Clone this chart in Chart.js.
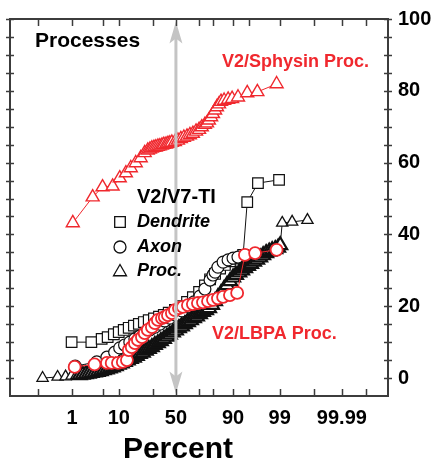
<!DOCTYPE html>
<html>
<head>
<meta charset="utf-8">
<script src="https://cdn.jsdelivr.net/npm/chart.js@4.4.1/dist/chart.umd.min.js"></script>
<style>
  html, body { margin: 0; padding: 0; background: #fff; }
  canvas { display: block; }
</style>
</head>
<body>
<canvas id="chartId" width="437" height="463"></canvas>
<script>
// cumulative percent (x) and value (y)
const sphysinPct = [1.04, 3.1, 5.0, 7.8, 10.4, 13.1, 15.6, 18.4, 21.5, 24.2, 26.4, 28.0, 29.5, 31.1, 32.6, 34.3, 35.9, 37.7, 39.3, 41.2, 42.9, 44.6, 46.4, 49.1, 51.8, 54.4, 57.1, 59.8, 62.3, 64.8, 67.4, 69.8, 71.9, 74.2, 75.7, 77.0, 78.5, 79.7, 81.0, 82.1, 83.3, 84.4, 86.0, 87.9, 89.6, 91.8, 94.5, 96.6, 98.8];
const sphysinVal = [43.2, 50.4, 53.2, 53.4, 55.7, 57.1, 58.5, 59.9, 61.3, 62.7, 63.4, 63.7, 64.0, 64.2, 64.3, 64.5, 64.6, 64.8, 65.0, 65.1, 65.3, 65.4, 65.6, 65.8, 66.2, 66.6, 67.0, 67.3, 67.7, 68.1, 68.7, 69.2, 69.9, 70.6, 71.0, 71.8, 72.7, 73.6, 74.6, 75.5, 76.3, 77.0, 77.3, 77.6, 77.8, 78.2, 79.4, 79.7, 81.9];

const dendritePct = [0.97, 2.9, 4.8, 6.3, 8.2, 10.0, 12.1, 14.5, 17.3, 20.3, 23.6, 27.1, 31.1, 35.2, 39.3, 43.6, 49.1, 54.4, 59.8, 64.8, 69.8, 74.2, 77.8, 81.0, 83.9, 86.4, 88.7, 91.1, 93.4, 94.5, 96.7, 98.96];
const dendriteVal = [10.0, 10.0, 10.9, 11.4, 12.2, 12.8, 13.4, 14.0, 14.6, 15.1, 15.6, 16.1, 16.6, 17.1, 17.6, 18.2, 19.0, 20.0, 21.2, 22.5, 24.0, 25.8, 27.5, 29.0, 30.5, 31.5, 32.5, 33.3, 34.3, 49.0, 54.3, 55.2];

const axonPct = [1.2, 3.8, 6.1, 8.5, 10.4, 12.5, 15.1, 17.9, 20.9, 24.2, 28.0, 31.9, 35.9, 40.1, 44.6, 50.0, 55.4, 60.6, 65.7, 70.5, 74.2, 77.8, 79.7, 81.0, 82.7, 85.5, 87.9, 90.0, 91.8];
const axonVal = [3.3, 4.5, 5.8, 7.2, 8.4, 9.2, 10.0, 10.9, 11.7, 12.5, 13.4, 14.2, 15.0, 15.9, 16.7, 17.5, 18.7, 19.8, 21.2, 22.8, 24.8, 27.3, 28.7, 29.5, 30.9, 32.3, 32.9, 33.4, 33.7];

const procPct = [0.14, 0.40, 0.67, 0.97, 1.30, 1.55, 1.83, 2.16, 2.53, 2.95, 3.44, 3.98, 4.60, 5.28, 6.05, 6.90, 7.84, 8.88, 10.0, 11.25, 12.6, 14.0, 15.6, 17.3, 19.05, 20.9, 22.9, 25.0, 27.2, 29.5, 31.85, 34.3, 36.8, 39.4, 42.0, 44.6, 47.3, 50.0, 52.7, 55.4, 58.0, 60.6, 63.2, 65.7, 68.15, 70.5, 72.8, 75.0, 77.1, 79.1, 80.95, 82.7, 84.4, 86.0, 87.4, 88.75, 90.0, 91.1, 92.2, 93.1, 93.95, 94.7, 95.4, 96.0, 96.56, 97.05, 97.47, 97.84, 98.17, 98.45, 98.70, 98.90, 99.03, 99.14, 99.54, 99.84];
const procVal = [0, 0.3, 0.4, 0.6, 0.8, 0.8, 0.95, 1.1, 1.25, 1.4, 1.55, 1.7, 1.9, 2.2, 2.4, 2.7, 3.0, 3.3, 3.7, 4.1, 4.5, 4.9, 5.3, 5.7, 6.2, 6.7, 7.1, 7.6, 8.1, 8.6, 9.2, 9.7, 10.3, 10.9, 11.5, 12.1, 12.7, 13.3, 13.9, 14.4, 15.0, 15.6, 16.1, 16.7, 17.2, 17.8, 18.4, 18.9, 19.5, 20.4, 21.4, 22.5, 23.6, 24.8, 25.9, 27.0, 28.0, 28.7, 29.4, 30.0, 30.6, 31.2, 31.8, 32.4, 33.0, 33.6, 34.2, 34.8, 35.2, 35.6, 35.9, 36.3, 37.0, 43.2, 43.5, 44.0];

const lbpaPct = [1.16, 3.4, 6.1, 7.5, 9.7, 11.7, 13.6, 14.5, 16.1, 17.9, 19.7, 22.3, 24.2, 26.4, 29.5, 31.9, 34.3, 37.7, 40.1, 42.9, 46.4, 49.1, 52.7, 56.2, 60.6, 64.8, 68.9, 72.8, 76.4, 79.7, 82.7, 85.5, 88.7, 91.5, 93.9, 96.2, 98.8];
const lbpaVal = [3.1, 3.8, 4.2, 4.2, 4.2, 4.5, 5.0, 7.8, 8.6, 9.7, 10.6, 11.4, 12.5, 13.4, 14.2, 15.3, 16.2, 16.7, 17.0, 17.5, 18.1, 18.9, 19.5, 19.8, 20.3, 20.6, 20.9, 21.1, 21.4, 21.8, 22.2, 22.6, 23.1, 23.7, 34.3, 34.8, 35.7];

// axis ticks
const xTickLabels = [1, 10, 50, 90, 99, 99.99];
const xTickMarks = [0.1, 1, 5, 10, 30, 50, 70, 80, 90, 95, 99, 99.9, 99.99, 99.999];
const yTickLabels = [0, 20, 40, 60, 80, 100];
const xRange = [0.01, 99.9999];
const yRange = [-5, 100];

const RED = '#f0282e';
const FONT = '"Liberation Sans", Arial, sans-serif';

// inverse normal cdf (Acklam), used for the probability axis
function probit(p) {
    const a = [-39.69683028665376, 220.9460984245205, -275.9285104469687, 138.3577518672690, -30.66479806614716, 2.506628277459239];
    const b = [-54.47609879822406, 161.5858368580409, -155.6989798598866, 66.80131188771972, -13.28068155288572];
    const c = [-0.007784894002430293, -0.3223964580411365, -2.400758277161838, -2.549732539343734, 4.374664141464968, 2.938163982698783];
    const d = [0.007784695709041462, 0.3224671290700398, 2.445134137142996, 3.754408661907416];
    const pl = 0.02425;
    let q, r;
    if (p < pl) {
        q = Math.sqrt(-2 * Math.log(p));
        return (((((c[0] * q + c[1]) * q + c[2]) * q + c[3]) * q + c[4]) * q + c[5]) / ((((d[0] * q + d[1]) * q + d[2]) * q + d[3]) * q + 1);
    }
    if (p > 1 - pl) {
        q = Math.sqrt(-2 * Math.log(1 - p));
        return -(((((c[0] * q + c[1]) * q + c[2]) * q + c[3]) * q + c[4]) * q + c[5]) / ((((d[0] * q + d[1]) * q + d[2]) * q + d[3]) * q + 1);
    }
    q = p - 0.5;
    r = q * q;
    return (((((a[0] * r + a[1]) * r + a[2]) * r + a[3]) * r + a[4]) * r + a[5]) * q / (((((b[0] * r + b[1]) * r + b[2]) * r + b[3]) * r + b[4]) * r + 1);
}

function toPoints(pct, val) {
    return pct.map((p, i) => ({ x: probit(p / 100), y: val[i] }));
}

function drawMarker(ctx, style, x, y, r, color, width) {
    ctx.save();
    ctx.strokeStyle = color;
    ctx.fillStyle = '#fff';
    ctx.lineWidth = width;
    ctx.beginPath();
    if (style === 'circle') {
        ctx.arc(x, y, r, 0, Math.PI * 2);
    } else if (style === 'rect') {
        const s = r * Math.SQRT1_2;
        ctx.rect(x - s, y - s, 2 * s, 2 * s);
    } else {
        ctx.moveTo(x, y - r);
        ctx.lineTo(x + Math.sin(2 * Math.PI / 3) * r, y - Math.cos(2 * Math.PI / 3) * r);
        ctx.lineTo(x + Math.sin(4 * Math.PI / 3) * r, y - Math.cos(4 * Math.PI / 3) * r);
        ctx.closePath();
    }
    ctx.fill();
    ctx.stroke();
    ctx.restore();
}

const overlay = {
    id: 'overlay',
    afterDatasetsDraw(chart) {
        const ctx = chart.ctx;
        const xs = chart.scales.x;
        const ys = chart.scales.y;
        const area = chart.chartArea;
        ctx.save();

        // 50% arrow
        const ax = xs.getPixelForValue(0);
        const aTop = ys.getPixelForValue(99.3);
        const aBot = ys.getPixelForValue(-4.3);
        ctx.strokeStyle = '#c4c4c4';
        ctx.fillStyle = '#c4c4c4';
        ctx.lineWidth = 3;
        ctx.beginPath();
        ctx.moveTo(ax, aTop + 12);
        ctx.lineTo(ax, aBot - 12);
        ctx.stroke();
        [[aTop, 1], [aBot, -1]].forEach(([ty, dir]) => {
            ctx.beginPath();
            ctx.moveTo(ax, ty);
            ctx.lineTo(ax - 6.5, ty + dir * 22);
            ctx.lineTo(ax, ty + dir * 17);
            ctx.lineTo(ax + 6.5, ty + dir * 22);
            ctx.closePath();
            ctx.fill();
        });

        // frame and ticks
        ctx.strokeStyle = '#3c3c3c';
        ctx.lineWidth = 2;
        ctx.strokeRect(area.left, area.top, area.right - area.left, area.bottom - area.top);
        ctx.lineWidth = 1.5;
        ctx.beginPath();
        xTickMarks.forEach(p => {
            const px = Math.round(xs.getPixelForValue(probit(p / 100))) + 0.5;
            ctx.moveTo(px, area.bottom);
            ctx.lineTo(px, area.bottom - 7);
            ctx.moveTo(px, area.top);
            ctx.lineTo(px, area.top + 7);
        });
        for (let v = 0; v <= 100; v += 5) {
            const py = Math.round(ys.getPixelForValue(v)) + 0.5;
            ctx.moveTo(area.left - 4, py);
            ctx.lineTo(area.left + 4, py);
            ctx.moveTo(area.right - 4, py);
            ctx.lineTo(area.right + 4, py);
        }
        ctx.stroke();

        // text labels
        ctx.textBaseline = 'middle';
        ctx.textAlign = 'left';
        ctx.fillStyle = '#000';
        ctx.font = 'bold 21px ' + FONT;
        ctx.fillText('Processes', 35, 41);
        ctx.font = 'bold 20px ' + FONT;
        ctx.fillText('V2/V7-TI', 137, 197);
        ctx.font = 'italic bold 18px ' + FONT;
        ctx.fillText('Dendrite', 137, 222);
        ctx.fillText('Axon', 137, 247);
        ctx.fillText('Proc.', 137, 271);
        drawMarker(ctx, 'rect', 120, 222, 7.5, '#111', 1.3);
        drawMarker(ctx, 'circle', 120, 247, 6, '#111', 1.3);
        drawMarker(ctx, 'triangle', 120, 272, 7.5, '#111', 1.3);

        ctx.fillStyle = RED;
        ctx.font = 'bold 18px ' + FONT;
        ctx.fillText('V2/Sphysin Proc.', 222, 62);
        ctx.fillText('V2/LBPA Proc.', 212, 334);

        ctx.fillStyle = '#000';
        ctx.textAlign = 'center';
        ctx.textBaseline = 'alphabetic';
        ctx.font = 'bold 30px ' + FONT;
        ctx.fillText('Percent', ax + 2, 458);
        ctx.restore();
    }
};

const chrt = document.getElementById('chartId').getContext('2d');
const chartId = new Chart(chrt, {
    type: 'scatter',
    data: {
        datasets: [
            {
                label: 'V2/Sphysin Proc.',
                data: toPoints(sphysinPct, sphysinVal),
                showLine: true, borderColor: RED, borderWidth: 1,
                pointStyle: 'triangle', pointRadius: 7.5, pointBorderWidth: 1.4,
                pointBorderColor: RED, pointBackgroundColor: '#fff', order: 0
            },
            {
                label: 'V2/LBPA Proc.',
                data: toPoints(lbpaPct, lbpaVal),
                showLine: true, borderColor: RED, borderWidth: 1,
                pointStyle: 'circle', pointRadius: 6, pointBorderWidth: 1.8,
                pointBorderColor: RED, pointBackgroundColor: '#fff', order: 1
            },
            {
                label: 'Proc.',
                data: toPoints(procPct, procVal),
                showLine: true, borderColor: '#111', borderWidth: 1,
                pointStyle: 'triangle',
                pointRadius: ctx => (ctx.dataIndex < 5 || ctx.dataIndex > 72) ? 6.5 : 8,
                pointBorderWidth: ctx => (ctx.dataIndex < 5 || ctx.dataIndex > 72) ? 1.3 : 2.2,
                pointBorderColor: '#111', pointBackgroundColor: '#fff', order: 2
            },
            {
                label: 'Axon',
                data: toPoints(axonPct, axonVal),
                showLine: true, borderColor: '#111', borderWidth: 1,
                pointStyle: 'circle', pointRadius: 6, pointBorderWidth: 1.2,
                pointBorderColor: '#111', pointBackgroundColor: '#fff', order: 3
            },
            {
                label: 'Dendrite',
                data: toPoints(dendritePct, dendriteVal),
                showLine: true, borderColor: '#111', borderWidth: 1,
                pointStyle: 'rect', pointRadius: 7.5, pointBorderWidth: 1.2,
                pointBorderColor: '#111', pointBackgroundColor: '#fff', order: 4
            }
        ]
    },
    options: {
        responsive: false,
        animation: false,
        layout: { padding: { left: 10, top: 19, right: 0, bottom: 0 } },
        plugins: {
            legend: { display: false },
            tooltip: { enabled: false }
        },
        scales: {
            x: {
                type: 'linear',
                position: 'bottom',
                min: probit(xRange[0] / 100),
                max: probit(xRange[1] / 100),
                grid: { display: false },
                border: { display: false },
                afterBuildTicks: s => { s.ticks = xTickLabels.map(p => ({ value: probit(p / 100) })); },
                afterFit: s => { s.height = 67; },
                ticks: {
                    padding: 2,
                    autoSkip: false,
                    maxRotation: 0,
                    color: '#000',
                    font: { family: FONT, size: 20, weight: 'bold' },
                    callback: (v, i) => String(xTickLabels[i])
                }
            },
            y: {
                type: 'linear',
                position: 'right',
                min: yRange[0],
                max: yRange[1],
                grid: { display: false },
                border: { display: false },
                afterBuildTicks: s => { s.ticks = yTickLabels.map(v => ({ value: v })); },
                afterFit: s => { s.width = 49; },
                ticks: {
                    padding: 2,
                    color: '#000',
                    font: { family: FONT, size: 20, weight: 'bold' }
                }
            }
        }
    },
    plugins: [overlay]
});
</script>
</body>
</html>
